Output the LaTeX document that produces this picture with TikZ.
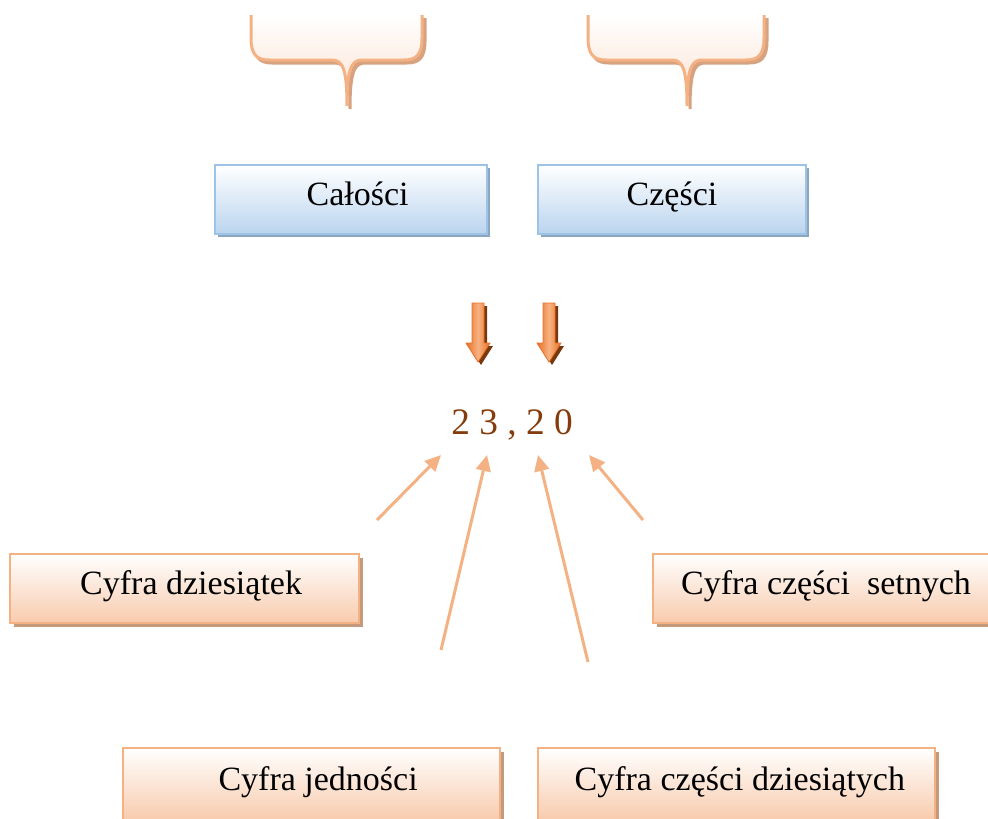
\documentclass[tikz,border=0pt]{standalone}
\usepackage{fontspec}
\setmainfont{Liberation Serif}
\usetikzlibrary{arrows.meta,shadows}

\definecolor{boxblueline}{RGB}{157,195,230}
\definecolor{boxbluefill}{RGB}{186,212,238}
\definecolor{boxblueshadow}{RGB}{140,166,192}
\definecolor{peachline}{RGB}{244,177,131}
\definecolor{peachfill}{RGB}{248,203,173}
\definecolor{peachshadow}{RGB}{196,154,124}
\definecolor{bracefill}{RGB}{251,224,206}
\definecolor{braceshadow}{RGB}{214,162,128}
\definecolor{digitbrown}{RGB}{132,60,12}
\definecolor{arroworange}{RGB}{232,112,40}
\definecolor{arrowlight}{RGB}{247,178,128}
\definecolor{arrowshadow}{RGB}{120,56,14}

% open curly callout: left edge, tip, right edge (pixel units)
\newcommand\calloutpath[3]{(#1,15) -- (#1,38) .. controls (#1,55) and ({#1+6},60) .. ({#1+18},60) -- ({#2-15},60) .. controls ({#2-4},60) and (#2,70) .. (#2,106) .. controls (#2,70) and ({#2+4},60) .. ({#2+15},60) -- ({#3-18},60) .. controls ({#3-6},60) and (#3,55) .. (#3,38) -- (#3,15)}

% thick downward block arrow centred on x
\newcommand\blockarrowpath[1]{({#1-6},303) -- ({#1+6},303) -- ({#1+6},343) -- ({#1+12},343) -- (#1,362) -- ({#1-12},343) -- ({#1-6},343) -- cycle}

% label text, set a little right of the box centre
\newcommand\boxtext[1]{\hspace*{10pt}#1}

\tikzset{
  labelfont/.style={font=\fontsize{25.5}{30}\selectfont, text height=15pt, text depth=6pt},
  bluebox/.style={draw=boxblueline, line width=1.5pt, top color=white,
    bottom color=boxbluefill, labelfont, minimum height=51.75pt, inner sep=0pt,
    drop shadow={opacity=1, fill=boxblueshadow, draw=none, shadow xshift=2.5pt, shadow yshift=-2.5pt}},
  peachbox/.style={draw=peachline, line width=1.5pt, top color=white,
    bottom color=peachfill, labelfont, minimum height=51.75pt, inner sep=0pt,
    drop shadow={opacity=1, fill=peachshadow, draw=none, shadow xshift=3pt, shadow yshift=-3pt}},
  pointer/.style={draw=peachline, line width=2.25pt, -{Triangle[length=12pt,width=11pt]}},
  calloutshadow/.style={fill=braceshadow, draw=braceshadow, line width=2.25pt},
  callout/.style={top color=white, bottom color=bracefill, draw=peachline, line width=2.25pt},
  blockshadow/.style={fill=arrowshadow},
  block/.style={left color=arroworange, right color=arroworange, middle color=arrowlight,
    draw=arroworange, line width=0.6pt},
}

\begin{document}
\begin{tikzpicture}[x=0.75pt, y=-0.75pt]
\clip (0,0) rectangle (988,818);

% open callouts at the top
\path[calloutshadow, shift={(3,3)}] \calloutpath{251}{347}{422};
\path[callout] \calloutpath{251}{347}{422};
\path[calloutshadow, shift={(3,3)}] \calloutpath{588}{687}{764};
\path[callout] \calloutpath{588}{687}{764};

% wholes and parts
\node[bluebox, minimum width=204pt] (calosci) at (351,199.5) {\boxtext{Całości}};
\node[bluebox, minimum width=201pt] (czesci) at (672,199.5) {Części};

% block arrows towards the number
\path[blockshadow, shift={(3,3)}] \blockarrowpath{478};
\path[block] \blockarrowpath{478};
\path[blockshadow, shift={(3,3)}] \blockarrowpath{549};
\path[block] \blockarrowpath{549};

% the number
\node[font=\fontsize{28}{32}\selectfont, text=digitbrown] (liczba) at (512,425) {2 3 , 2 0};

% digit labels
\node[peachbox, minimum width=261.75pt] (dziesiatek) at (184.5,588.5) {\boxtext{Cyfra dziesiątek}};
\node[peachbox, minimum width=259.5pt] (setnych) at (826,588.5) {Cyfra części~ setnych};
\node[peachbox, minimum width=282.75pt, minimum height=54pt] (jednosci) at (311.5,784) {\boxtext{Cyfra jedności}};
\node[peachbox, minimum width=297.75pt, minimum height=54pt] (dziesiatych) at (736.5,784) {\hspace*{5pt}Cyfra części dziesiątych};

% pointers to the digits
\coordinate (p1s) at (377,520); \coordinate (p1e) at (441,455);
\coordinate (p2s) at (441,650); \coordinate (p2e) at (487,455);
\coordinate (p3s) at (588,662); \coordinate (p3e) at (538,455);
\coordinate (p4s) at (643,520); \coordinate (p4e) at (589,455);
\draw[pointer] (p1s) -- (p1e);
\draw[pointer] (p2s) -- (p2e);
\draw[pointer] (p3s) -- (p3e);
\draw[pointer] (p4s) -- (p4e);
\end{tikzpicture}
\end{document}
